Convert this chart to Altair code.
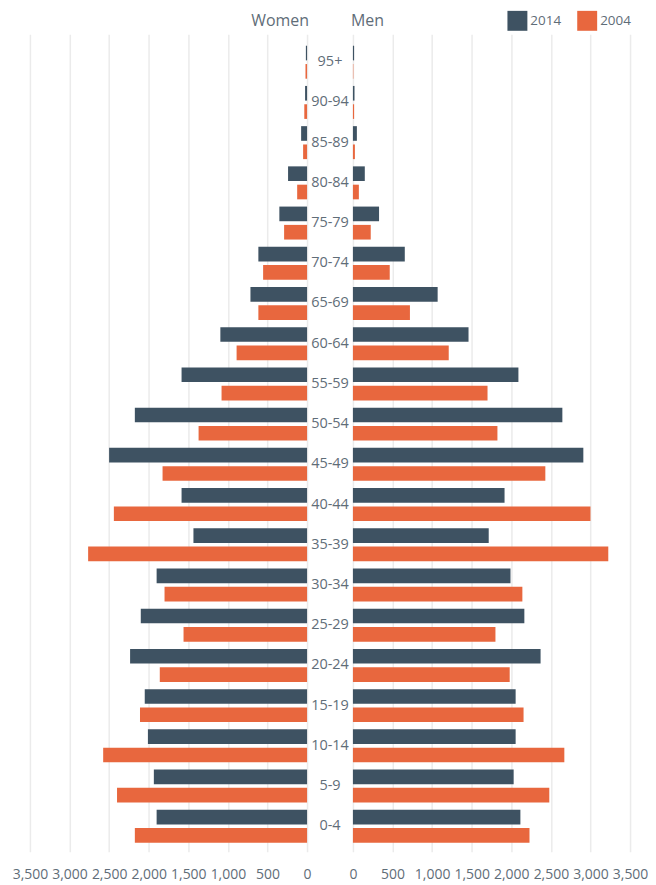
import altair as alt
import pandas as pd

ages = ["95+", "90-94", "85-89", "80-84", "75-79", "70-74", "65-69", "60-64",
        "55-59", "50-54", "45-49", "40-44", "35-39", "30-34", "25-29", "20-24",
        "15-19", "10-14", "5-9", "0-4"]
years = ["2014", "2004"]

women_2014 = [15, 25, 75, 240, 350, 615, 715, 1095, 1585, 2175, 2500, 1585, 1435,
              1900, 2100, 2235, 2050, 2010, 1935, 1900]
women_2004 = [20, 35, 50, 125, 290, 555, 615, 890, 1080, 1370, 1825, 2440, 2765,
              1800, 1560, 1860, 2110, 2575, 2400, 2175]
men_2014 = [15, 20, 50, 150, 330, 655, 1070, 1460, 2090, 2645, 2910, 1915, 1715,
            1990, 2165, 2370, 2055, 2055, 2030, 2115]
men_2004 = [5, 15, 25, 75, 225, 465, 720, 1210, 1700, 1825, 2430, 3000, 3225,
            2140, 1800, 1980, 2155, 2670, 2480, 2230]
tick_values = [0, 500, 1000, 1500, 2000, 2500, 3000, 3500]

rows = []
for sex, s14, s04 in [("Women", women_2014, women_2004), ("Men", men_2014, men_2004)]:
    for i, a in enumerate(ages):
        rows.append({"sex": sex, "age": a, "year": "2014", "value": s14[i]})
        rows.append({"sex": sex, "age": a, "year": "2004", "value": s04[i]})
df = pd.DataFrame(rows)

DARK = "#3e5262"
ORANGE = "#e8673e"
TXT = "#5f6d78"
FONT = "Open Sans"
W = 278
H = 820

y_enc = alt.Y("age:N", sort=ages, axis=None,
              scale=alt.Scale(type="band", paddingInner=0.18, paddingOuter=0.254,
                              align=0.56))
yoff = alt.YOffset("year:N", sort=years, scale=alt.Scale(paddingInner=0.2))
color = alt.Color("year:N", sort=years,
                  scale=alt.Scale(domain=years, range=[DARK, ORANGE]),
                  legend=alt.Legend(orient="none", legendX=479, legendY=-23.5,
                                    direction="horizontal", title=None,
                                    symbolType="square", symbolSize=400,
                                    symbolStrokeWidth=0, symbolOpacity=1,
                                    labelFontSize=13.5, labelColor=TXT, labelFont=FONT,
                                    labelOffset=3, columnPadding=16))


def xaxis():
    return alt.Axis(values=tick_values, format=",.0f", title=None, grid=True,
                    ticks=False, domain=False, labelFlush=False, labelPadding=16,
                    labelFontSize=14, labelColor=TXT, labelFont=FONT,
                    gridColor="#ebebeb", gridWidth=1.5)


left = alt.Chart(df).transform_filter(alt.datum.sex == "Women").mark_bar().encode(
    x=alt.X("value:Q", scale=alt.Scale(domain=[0, 3500], reverse=True, nice=False),
            axis=xaxis()),
    y=y_enc, yOffset=yoff, color=color,
).properties(width=W, height=H,
             title=alt.TitleParams("Women", anchor="end", fontSize=16, fontWeight="normal",
                                   color=TXT, font=FONT, offset=5, dx=-2))

right = alt.Chart(df).transform_filter(alt.datum.sex == "Men").mark_bar().encode(
    x=alt.X("value:Q", scale=alt.Scale(domain=[0, 3500], nice=False), axis=xaxis()),
    y=y_enc, yOffset=yoff, color=color,
).properties(width=W, height=H,
             title=alt.TitleParams("Men", anchor="start", fontSize=16, fontWeight="normal",
                                   color=TXT, font=FONT, offset=5, dx=2))

mid = alt.Chart(pd.DataFrame({"age": ages})).mark_text(
    fontSize=14.5, color=TXT, font=FONT
).encode(
    y=y_enc, text="age:N", x=alt.value(23),
).properties(width=46, height=H)

chart = alt.hconcat(left, mid, right, spacing=0, bounds="flush").properties(
    padding={"left": 4, "top": 1, "right": 0, "bottom": 0}
).configure_view(stroke=None)

chart.save("out.html", embed_options={"renderer": "svg", "actions": False})
